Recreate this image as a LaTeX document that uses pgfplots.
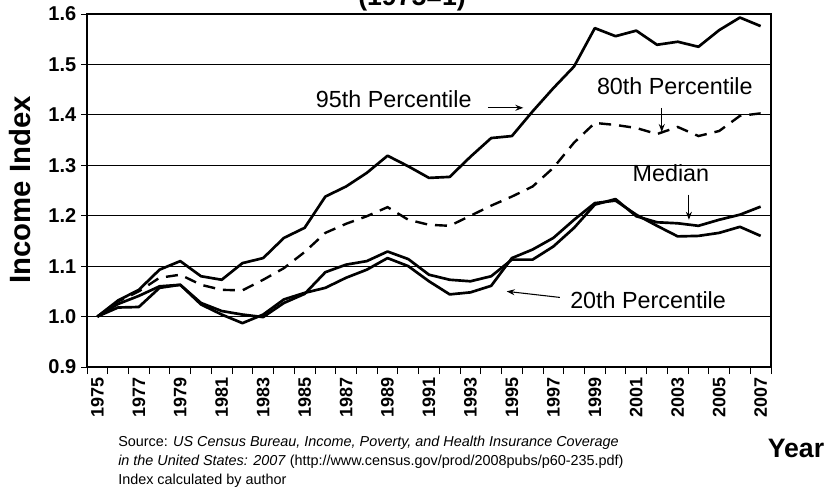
\documentclass[border=0pt]{standalone}
\usepackage{fontspec}
\setmainfont{Liberation Sans}
\usepackage{pgfplots}
\usepackage{pgfplotstable}
\pgfplotsset{compat=1.18}
\usetikzlibrary{arrows.meta}

\pgfplotstableread{
year p95 p80 med p20
1975 1.000 1.000 1.000 1.000
1976 1.032 1.030 1.018 1.025
1977 1.053 1.050 1.019 1.041
1978 1.093 1.077 1.057 1.060
1979 1.110 1.083 1.063 1.063
1980 1.080 1.063 1.027 1.024
1981 1.073 1.053 1.011 1.004
1982 1.106 1.052 1.004 0.987
1983 1.116 1.073 0.999 1.004
1984 1.156 1.096 1.027 1.034
1985 1.176 1.128 1.045 1.047
1986 1.238 1.166 1.088 1.057
1987 1.258 1.184 1.103 1.077
1988 1.285 1.199 1.110 1.093
1989 1.319 1.217 1.129 1.116
1990 1.298 1.192 1.114 1.100
1991 1.275 1.182 1.083 1.070
1992 1.277 1.180 1.073 1.044
1993 1.317 1.200 1.070 1.048
1994 1.354 1.220 1.080 1.061
1995 1.358 1.238 1.113 1.116
1996 1.407 1.258 1.113 1.133
1997 1.453 1.295 1.139 1.156
1998 1.496 1.345 1.176 1.192
1999 1.572 1.384 1.222 1.225
2000 1.556 1.380 1.233 1.230
2001 1.567 1.374 1.199 1.202
2002 1.539 1.362 1.187 1.180
2003 1.545 1.376 1.185 1.159
2004 1.535 1.358 1.180 1.160
2005 1.568 1.368 1.192 1.166
2006 1.593 1.398 1.202 1.178
2007 1.576 1.403 1.218 1.160
}\data

\begin{document}
\begin{tikzpicture}
\begin{axis}[
  at={(0pt,0pt)}, anchor=south west,
  scale only axis, width=513pt, height=264.75pt,
  xmin=1974.5, xmax=2007.5, ymin=0.9, ymax=1.6,
  xtick={1975,1977,...,2007},
  minor xtick={1974.5,1975.5,...,2007.5},
  ytick={0.9,1,1.1,1.2,1.3,1.4,1.5,1.6},
  tick pos=left,
  tick align=outside,
  major tick length=4.5pt,
  minor tick length=5.25pt,
  major x tick style={draw=none},
  minor x tick style={black, line width=0.7pt},
  major y tick style={black, line width=0.7pt},
  ymajorgrids,
  major grid style={black, line width=0.6pt},
  axis line style={black, line width=0.8pt},
  /pgf/number format/assume math mode=true,
  yticklabel style={font=\fontsize{15}{15}\selectfont\bfseries,
    /pgf/number format/.cd, fixed, fixed zerofill, precision=1},
  xticklabel style={rotate=90, anchor=east,
    font=\fontsize{13.5}{14}\selectfont\bfseries,
    /pgf/number format/1000 sep={}},
  clip=false,
]
\addplot[black, line width=2pt, line join=round] table[x=year,y=p95]{\data};
\addplot[black, line width=1.8pt, dash pattern=on 9pt off 6pt] table[x=year,y=p80]{\data};
\addplot[black, line width=2pt, line join=round] table[x=year,y=med]{\data};
\addplot[black, line width=2pt, line join=round] table[x=year,y=p20]{\data};

\node[anchor=base, font=\fontsize{17.5}{17.5}\selectfont] at (axis cs:1989.3,1.415) {95th Percentile};
\draw[-{Stealth[length=6pt,width=4.5pt]}, line width=0.8pt] (axis cs:1993.84,1.414) -- (axis cs:1995.55,1.414);
\node[anchor=base, font=\fontsize{17.5}{17.5}\selectfont] at (axis cs:2002.86,1.44) {80th Percentile};
\draw[-{Stealth[length=6pt,width=4.5pt]}, line width=0.8pt] (axis cs:2002.23,1.414) -- (axis cs:2002.23,1.366);
\node[anchor=base, font=\fontsize{17.5}{17.5}\selectfont] at (axis cs:2002.67,1.267) {Median};
\draw[-{Stealth[length=6pt,width=4.5pt]}, line width=0.8pt] (axis cs:2003.54,1.242) -- (axis cs:2003.54,1.192);
\node[anchor=base, font=\fontsize{17.5}{17.5}\selectfont] at (axis cs:2001.57,1.016) {20th Percentile};
\draw[-{Stealth[length=6pt,width=4.5pt]}, line width=0.8pt] (axis cs:1997.31,1.038) -- (axis cs:1994.75,1.050);
\end{axis}

\node[anchor=base, font=\fontsize{20}{20}\selectfont\bfseries] at (243.75pt,271.5pt) {(1975=1)};
\node[rotate=90, font=\fontsize{22}{22}\selectfont\bfseries] at (-50.25pt,132.75pt) {Income Index};
\node[font=\fontsize{20}{20}\selectfont\bfseries] at (531.75pt,-60.75pt) {Year};
\node[anchor=base west, font=\fontsize{10.8}{10.8}\selectfont, inner sep=0pt] at (23.25pt,-59.25pt)
  {Source: \textit{US Census Bureau, Income, Poverty, and Health Insurance Coverage}};
\node[anchor=base west, font=\fontsize{10.8}{10.8}\selectfont, inner sep=0pt] at (23.25pt,-73.5pt)
  {\textit{in the United States: 2007} (http://www.census.gov/prod/2008pubs/p60-235.pdf)};
\node[anchor=base west, font=\fontsize{10.8}{10.8}\selectfont, inner sep=0pt] at (23.25pt,-87.75pt)
  {Index calculated by author};

\pgfresetboundingbox
\path (-65.25pt,-97.5pt) rectangle (555pt,275.25pt);
\end{tikzpicture}
\end{document}
